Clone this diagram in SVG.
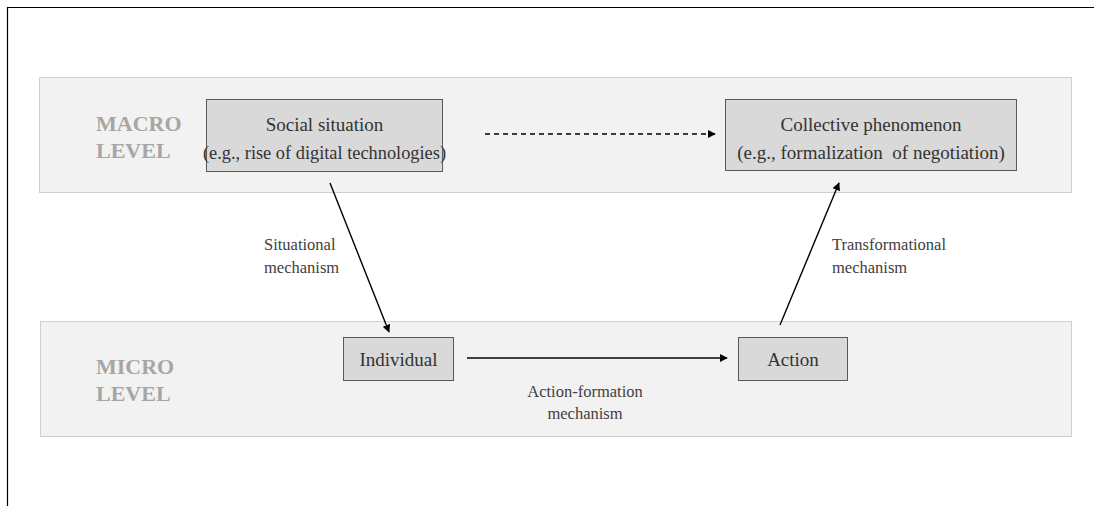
<svg xmlns="http://www.w3.org/2000/svg" width="1094" height="506" viewBox="0 0 1094 506">
<style>
.panel{fill:#f2f2f2;stroke:#d0d0d0;stroke-width:1}
.box{fill:#d9d9d9;stroke:#595959;stroke-width:1}
text{font-family:'Liberation Serif','Times New Roman',Tinos,'DejaVu Serif',serif}
.lvl{font-weight:bold;font-size:22px;fill:#a6a6a6}
.t{font-size:19px;fill:#333333;text-anchor:middle}
.lab{font-size:16.5px;fill:#404040}
.c{stroke:#000;stroke-width:1.4;fill:none}
</style>
<defs>
<marker id="ah" viewBox="0 0 10 10" refX="9" refY="5" markerWidth="8" markerHeight="8" markerUnits="userSpaceOnUse" orient="auto"><path d="M0,0 L10,5 L0,10 z" fill="#000"/></marker>
</defs>
<rect width="1094" height="506" fill="#fff"/>
<path d="M7.5,506 V7.5 H1094" fill="none" stroke="#000" stroke-width="1.2"/>
<g id="macro-panel">
<rect class="panel" x="39.5" y="77.5" width="1032" height="115"/>
<text class="lvl" x="96" y="131">MACRO</text>
<text class="lvl" x="96" y="158">LEVEL</text>
</g>
<g id="micro-panel">
<rect class="panel" x="40.5" y="321.5" width="1031" height="115"/>
<text class="lvl" x="96" y="374">MICRO</text>
<text class="lvl" x="96" y="401">LEVEL</text>
</g>
<g id="social-situation">
<rect class="box" x="206.5" y="99.5" width="236" height="72"/>
<text class="t" x="324.5" y="131">Social situation</text>
<text class="t" x="324.5" y="159" textLength="243" lengthAdjust="spacingAndGlyphs">(e.g., rise of digital technologies)</text>
</g>
<g id="collective-phenomenon">
<rect class="box" x="725.5" y="99.5" width="291" height="71"/>
<text class="t" x="871" y="131">Collective phenomenon</text>
<text class="t" x="871" y="159" xml:space="preserve">(e.g., formalization  of negotiation)</text>
</g>
<g id="individual">
<rect class="box" x="343.5" y="337.5" width="110" height="43"/>
<text class="t" x="398.5" y="366">Individual</text>
</g>
<g id="action">
<rect class="box" x="738.5" y="337.5" width="109" height="43"/>
<text class="t" x="793" y="366">Action</text>
</g>
<g id="connectors">
<line class="c" x1="485" y1="134" x2="715" y2="134" stroke-dasharray="5,4" marker-end="url(#ah)"/>
<line class="c" x1="330" y1="183" x2="389" y2="332" marker-end="url(#ah)"/>
<line class="c" x1="780" y1="325" x2="839" y2="183" marker-end="url(#ah)"/>
<line class="c" x1="467" y1="358" x2="727" y2="358" marker-end="url(#ah)"/>
<text class="lab" x="264" y="250">Situational</text>
<text class="lab" x="264" y="273">mechanism</text>
<text class="lab" x="832" y="250">Transformational</text>
<text class="lab" x="832" y="273">mechanism</text>
<text class="lab" x="585" y="397" text-anchor="middle">Action-formation</text>
<text class="lab" x="585" y="419" text-anchor="middle">mechanism</text>
</g>
</svg>
